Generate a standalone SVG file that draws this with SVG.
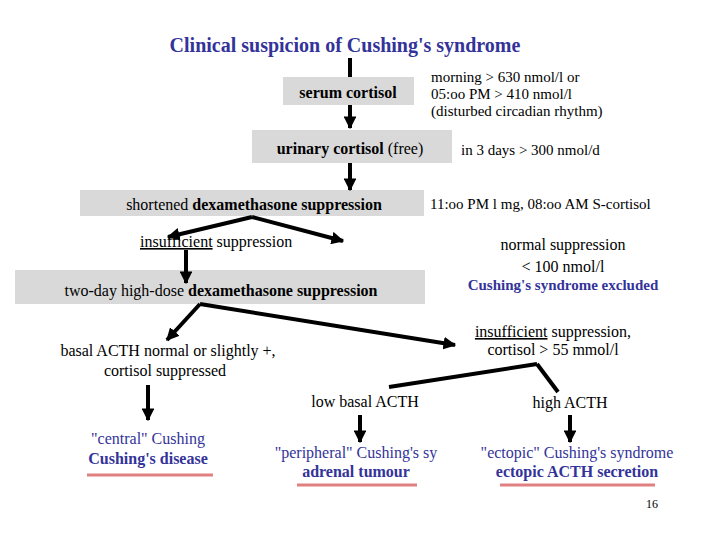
<svg xmlns="http://www.w3.org/2000/svg" width="720" height="540" viewBox="0 0 720 540" font-family="'Liberation Serif','Times New Roman','DejaVu Serif',serif">
<defs>
<marker id="ah" viewBox="0 0 10 10" refX="9" refY="5" markerWidth="3.2" markerHeight="3.2" orient="auto"><path d="M0,0L10,5L0,10z" fill="#000"/></marker>
<style>
text{font-size:16px;fill:#000}
.b{font-weight:bold}
.blue{fill:#333399;font-weight:bold}
.blueN{fill:#333399}
.box{fill:#d9d9d9}
.c{text-anchor:middle}
.ln{stroke:#000;stroke-width:4;fill:none}
.ar{stroke:#000;stroke-width:4;fill:none;marker-end:url(#ah)}
.ul{stroke:#e08080;stroke-width:3}
</style>
</defs>
<rect width="720" height="540" fill="#fff"/>
<g id="title"><text x="345" y="52" class="c blueN b" style="font-size:20px">Clinical suspicion of Cushing's syndrome</text></g>
<g id="serum">
<rect class="box" x="283" y="77" width="131" height="28"/>
<text x="348" y="98" class="c b">serum cortisol</text>
<text x="431" y="82" style="font-size:15px">morning &gt; 630 nmol/l or</text>
<text x="431" y="99" style="font-size:15px">05:oo PM  &gt; 410 nmol/l</text>
<text x="431" y="116" style="font-size:15px">(disturbed circadian rhythm)</text>
</g>
<g id="urinary">
<rect class="box" x="252" y="130" width="200" height="33"/>
<text x="350" y="154" class="c"><tspan class="b">urinary cortisol</tspan> (free)</text>
<text x="461" y="155" style="font-size:15px">in 3 days &gt; 300 nmol/d</text>
</g>
<g id="shortened">
<rect class="box" x="80" y="190" width="344" height="26"/>
<text x="254" y="210" class="c">shortened <tspan class="b">dexamethasone suppression</tspan></text>
<text x="430" y="209" style="font-size:15px">11:oo PM l mg, 08:oo AM S-cortisol</text>
</g>
<g id="insufficient1">
<text x="140" y="247"><tspan text-decoration="underline">insufficient</tspan> suppression</text>
</g>
<g id="normal">
<text x="563" y="250" class="c">normal suppression</text>
<text x="563" y="272" class="c">&lt; 100 nmol/l</text>
<text x="563" y="290" class="c blue" style="font-size:15px">Cushing's syndrome excluded</text>
</g>
<g id="twoday">
<rect class="box" x="15" y="270" width="410" height="34"/>
<text x="221" y="296" class="c">two-day high-dose <tspan class="b">dexamethasone suppression</tspan></text>
</g>
<g id="basal">
<text x="168" y="356" class="c">basal ACTH normal or slightly +,</text>
<text x="165" y="376" class="c">cortisol suppressed</text>
</g>
<g id="insufficient2">
<text x="553" y="337" class="c"><tspan text-decoration="underline">insufficient</tspan> suppression,</text>
<text x="553" y="355" class="c">cortisol &gt; 55 mmol/l</text>
</g>
<g id="low"><text x="365" y="407" class="c">low basal ACTH</text></g>
<g id="high"><text x="570" y="408" class="c">high ACTH</text></g>
<g id="central">
<text x="148" y="444" class="c blueN">"central" Cushing</text>
<text x="148" y="464" class="c blue">Cushing's disease</text>
<line class="ul" x1="87" y1="475" x2="213" y2="475"/>
</g>
<g id="peripheral">
<text x="356" y="458" class="c blueN">"peripheral" Cushing's sy</text>
<text x="356" y="477" class="c blue">adrenal tumour</text>
<line class="ul" x1="297" y1="485" x2="417" y2="485"/>
</g>
<g id="ectopic">
<text x="577" y="458" class="c blueN">"ectopic" Cushing's syndrome</text>
<text x="577" y="477" class="c blue">ectopic ACTH secretion</text>
<line class="ul" x1="500" y1="485" x2="655" y2="485"/>
</g>
<g id="page"><text x="652" y="508" class="c" style="font-size:12px">16</text></g>
<g id="connectors">
<line class="ln" x1="350" y1="58" x2="350" y2="77"/>
<line class="ar" x1="350" y1="105" x2="350" y2="128"/>
<line class="ar" x1="350" y1="163" x2="350" y2="190"/>
<line class="ar" x1="252" y1="217" x2="168" y2="237"/>
<line class="ar" x1="252" y1="217" x2="343" y2="241"/>
<line class="ar" x1="186" y1="250" x2="186" y2="283"/>
<line class="ar" x1="200" y1="304" x2="167" y2="340"/>
<line class="ar" x1="200" y1="304" x2="455" y2="345"/>
<line class="ln" x1="537" y1="364" x2="389" y2="387"/>
<line class="ln" x1="537" y1="364" x2="558" y2="392"/>
<line class="ar" x1="148" y1="385" x2="148" y2="420"/>
<line class="ar" x1="360" y1="415" x2="360" y2="442"/>
<line class="ar" x1="570" y1="415" x2="570" y2="442"/>
</g>
</svg>
